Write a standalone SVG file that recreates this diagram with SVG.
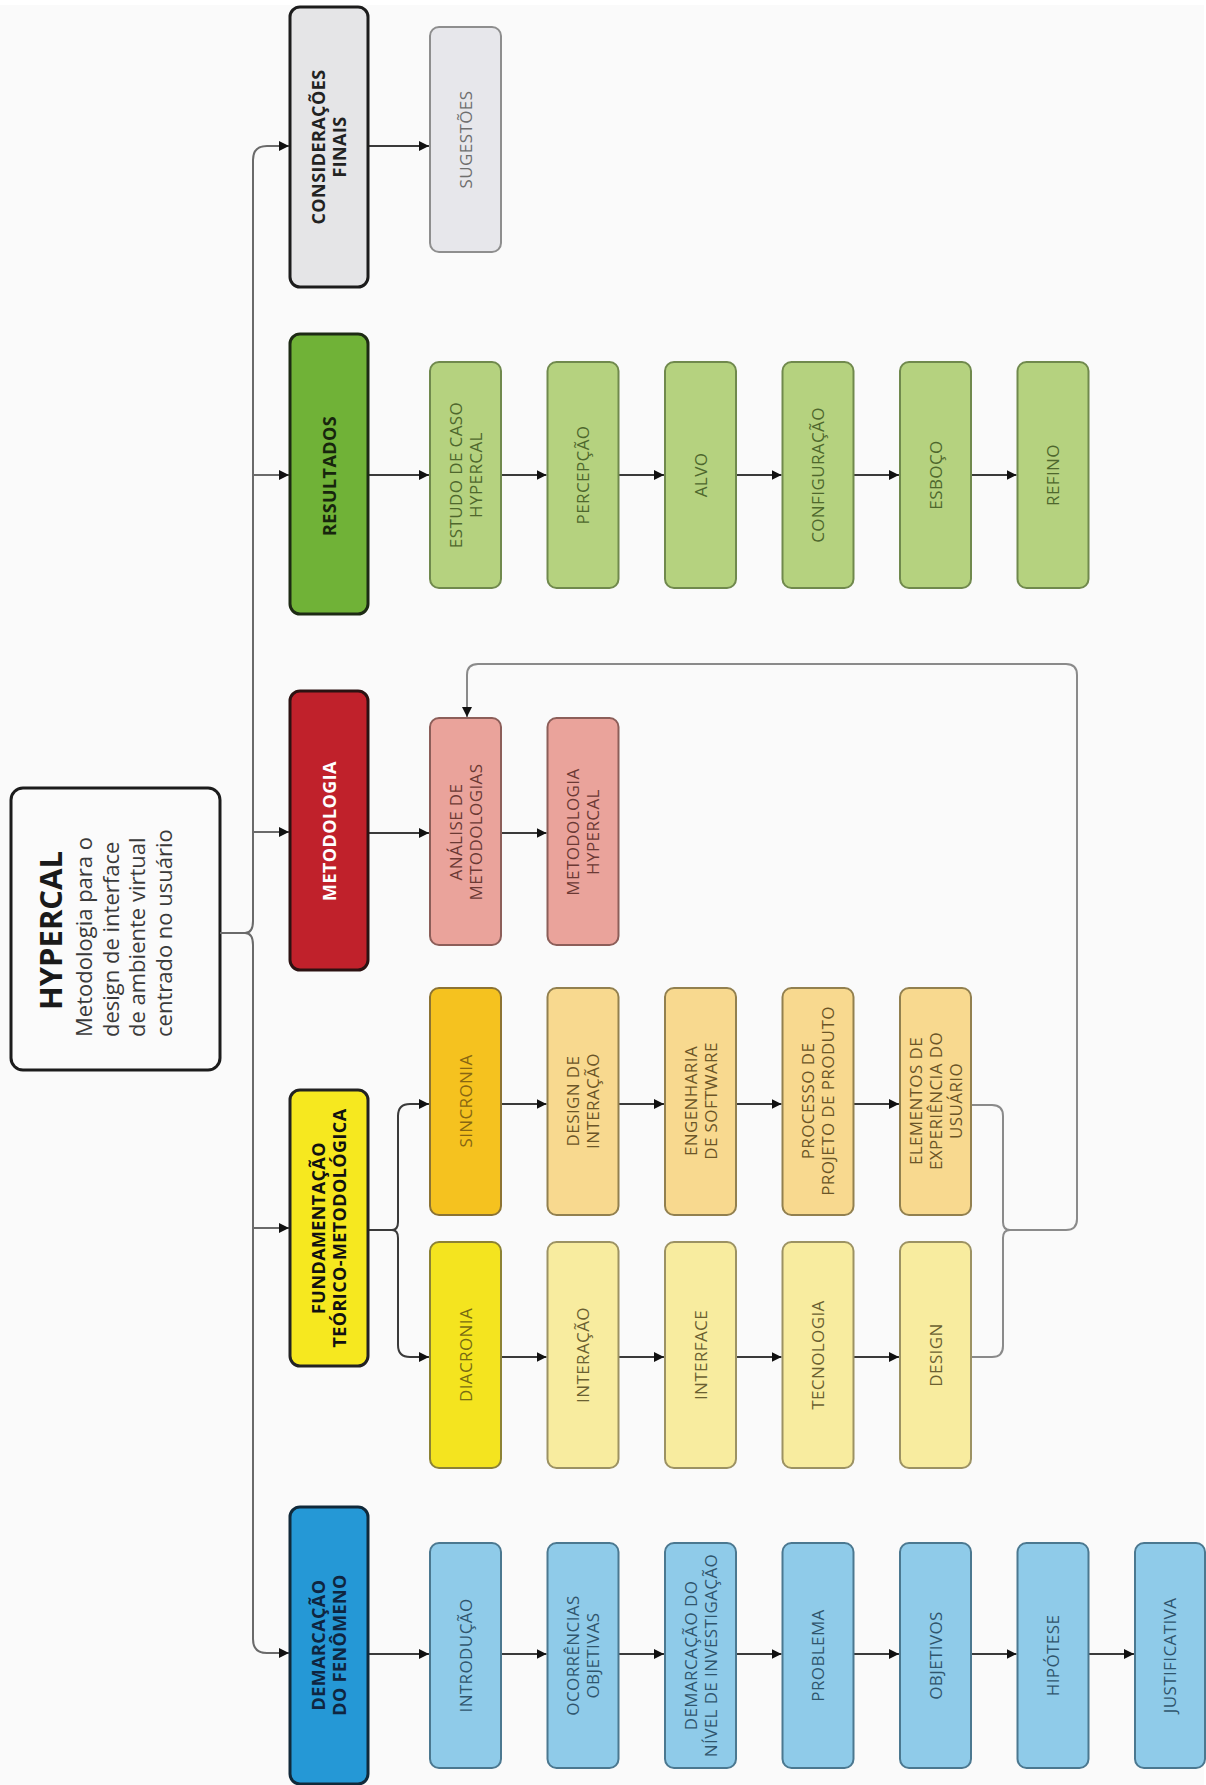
<svg xmlns="http://www.w3.org/2000/svg" width="1206" height="1785" viewBox="0 0 1206 1785">
  <style>
    .bg { fill: #fafafa; }
    .t1 { font-family: "Open Sans", "Noto Sans", "DejaVu Sans", sans-serif; font-size: 18px; font-weight: 700; text-anchor: middle; letter-spacing: 0.4px; }
    .t2 { font-family: "Open Sans", "Noto Sans", "DejaVu Sans", sans-serif; font-size: 17px; font-weight: 400; text-anchor: middle; letter-spacing: 0.4px; }
    .b1 { stroke-width: 3; }
    .b2 { stroke-width: 2; }
    .spine { fill: none; stroke: #6a6a6a; stroke-width: 2; }
    .flow { fill: none; stroke: #3a3a3a; stroke-width: 2; }
    .loop { fill: none; stroke: #8a8a8a; stroke-width: 2; }
    /* palette per branch */
    .k-gray1 { fill: #e5e5e7; stroke: #1c1c1c; }
    .k-gray2 { fill: #e7e7eb; stroke: #8e8e8e; }
    .c-gray1 { fill: #222; } .c-gray2 { fill: #6e6e6e; }
    .k-green1 { fill: #70b237; stroke: #1d2a14; }
    .k-green2 { fill: #b5d27f; stroke: #70894d; }
    .c-green1 { fill: #17250d; } .c-green2 { fill: #4e672d; }
    .k-red1 { fill: #c0212b; stroke: #2c1212; }
    .k-red2 { fill: #eaa39b; stroke: #8c5e59; }
    .c-red1 { fill: #ffffff; } .c-red2 { fill: #6b3934; }
    .k-yel1 { fill: #f6e81f; stroke: #222; }
    .k-sinc { fill: #f5c21f; stroke: #8c7333; }
    .k-sinc2 { fill: #f8d98f; stroke: #92804f; }
    .k-diac { fill: #f4e41f; stroke: #8c8234; }
    .k-diac2 { fill: #f8ec9f; stroke: #9c9263; }
    .c-yel1 { fill: #111; } .c-sinc { fill: #876612; } .c-sinc2 { fill: #6b5527; }
    .c-diac { fill: #776b12; } .c-diac2 { fill: #6a6031; }
    .k-blue1 { fill: #2598d6; stroke: #10293a; }
    .k-blue2 { fill: #8fcbe9; stroke: #4b7890; }
    .c-blue1 { fill: #0f2540; } .c-blue2 { fill: #2f556d; }
  </style>
  <defs>
    <marker id="ah" viewBox="0 0 10 10" refX="10" refY="5" markerWidth="10" markerHeight="10" markerUnits="userSpaceOnUse" orient="auto">
      <path d="M0,0 L10,5 L0,10 z" fill="#111"/>
    </marker>
  </defs>

  <rect x="0" y="0" width="1206" height="1785" fill="#ffffff"/>
  <rect class="bg" x="0" y="5" width="1204" height="1780"/>

  <!-- root node -->
  <g id="hypercal">
    <rect x="11" y="788" width="209" height="282" rx="12" fill="#fbfbfb" stroke="#1c1c1c" stroke-width="3"/>
    <g transform="rotate(-90)" font-family="'Open Sans', 'Noto Sans', sans-serif">
      <text x="-1010" y="62" font-size="31" font-weight="700" fill="#1a1a1a">HYPERCAL</text>
      <text font-size="22" fill="#3a3a3a">
        <tspan x="-1037" y="92">Metodologia para o</tspan>
        <tspan x="-1037" y="118.5">design de interface</tspan>
        <tspan x="-1037" y="145">de ambiente virtual</tspan>
        <tspan x="-1037" y="171.5">centrado no usuário</tspan>
      </text>
    </g>
  </g>

  <!-- connectors -->
  <g id="connectors">
    <!-- trunk with brace from the root node -->
    <path class="spine" d="M220,933 L245,933"/>
    <path class="spine" d="M280,146 L267,146 Q253,146 253,160 L253,921 Q253,933 245,933 Q253,933 253,945 L253,1639 Q253,1653 267,1653 L280,1653"/>
    <path class="spine" marker-end="url(#ah)" d="M270,146 L289,146"/>
    <path class="spine" marker-end="url(#ah)" d="M253,475 L289,475"/>
    <path class="spine" marker-end="url(#ah)" d="M253,832 L289,832"/>
    <path class="spine" marker-end="url(#ah)" d="M253,1228 L289,1228"/>
    <path class="spine" marker-end="url(#ah)" d="M270,1653 L289,1653"/>

    <!-- considerações finais -->
    <path class="flow" marker-end="url(#ah)" d="M368,146 L429,146"/>

    <!-- resultados row -->
    <path class="flow" marker-end="url(#ah)" d="M368,475 L429,475"/>
    <path class="flow" marker-end="url(#ah)" d="M501,475 L546.5,475"/>
    <path class="flow" marker-end="url(#ah)" d="M618.5,475 L664,475"/>
    <path class="flow" marker-end="url(#ah)" d="M736,475 L781.5,475"/>
    <path class="flow" marker-end="url(#ah)" d="M853.5,475 L899,475"/>
    <path class="flow" marker-end="url(#ah)" d="M971,475 L1016.5,475"/>

    <!-- metodologia row -->
    <path class="flow" marker-end="url(#ah)" d="M368,833 L429,833"/>
    <path class="flow" marker-end="url(#ah)" d="M501,833 L546.5,833"/>

    <!-- fundamentação split into two rows -->
    <path class="flow" d="M368,1230 L392,1230"/>
    <path class="flow" marker-end="url(#ah)" d="M392,1230 Q398,1230 398,1222 L398,1116 Q398,1104 410,1104 L429,1104"/>
    <path class="flow" marker-end="url(#ah)" d="M392,1230 Q398,1230 398,1238 L398,1345 Q398,1357 410,1357 L429,1357"/>
    <path class="flow" marker-end="url(#ah)" d="M501,1104 L546.5,1104"/>
    <path class="flow" marker-end="url(#ah)" d="M618.5,1104 L664,1104"/>
    <path class="flow" marker-end="url(#ah)" d="M736,1104 L781.5,1104"/>
    <path class="flow" marker-end="url(#ah)" d="M853.5,1104 L899,1104"/>
    <path class="flow" marker-end="url(#ah)" d="M501,1357 L546.5,1357"/>
    <path class="flow" marker-end="url(#ah)" d="M618.5,1357 L664,1357"/>
    <path class="flow" marker-end="url(#ah)" d="M736,1357 L781.5,1357"/>
    <path class="flow" marker-end="url(#ah)" d="M853.5,1357 L899,1357"/>

    <!-- both rows merge and feed back into the methodology analysis -->
    <path class="loop" d="M971,1105 L992,1105 Q1003,1105 1003,1116 L1003,1222 Q1003,1230 1010,1230"/>
    <path class="loop" d="M971,1357 L992,1357 Q1003,1357 1003,1346 L1003,1238 Q1003,1230 1010,1230"/>
    <path class="loop" marker-end="url(#ah)" d="M1010,1230 L1066,1230 Q1077,1230 1077,1219 L1077,675 Q1077,664 1066,664 L478,664 Q467,664 467,675 L467,717"/>

    <!-- demarcação row -->
    <path class="flow" marker-end="url(#ah)" d="M368,1654 L429,1654"/>
    <path class="flow" marker-end="url(#ah)" d="M501,1654 L546.5,1654"/>
    <path class="flow" marker-end="url(#ah)" d="M618.5,1654 L664,1654"/>
    <path class="flow" marker-end="url(#ah)" d="M736,1654 L781.5,1654"/>
    <path class="flow" marker-end="url(#ah)" d="M853.5,1654 L899,1654"/>
    <path class="flow" marker-end="url(#ah)" d="M971,1654 L1016.5,1654"/>
    <path class="flow" marker-end="url(#ah)" d="M1088.5,1654 L1134,1654"/>
  </g>

  <!-- chapter nodes -->
  <g id="consideracoes">
    <rect class="b1 k-gray1" x="290" y="7" width="78" height="280" rx="10"/>
    <text class="t1 c-gray1" transform="translate(329,147) rotate(-90)"><tspan x="0" y="-4">CONSIDERAÇÕES</tspan><tspan x="0" y="17">FINAIS</tspan></text>
  </g>
  <g id="resultados">
    <rect class="b1 k-green1" x="290" y="334" width="78" height="280" rx="10"/>
    <text class="t1 c-green1" transform="translate(329,476) rotate(-90)" x="0" y="6.5">RESULTADOS</text>
  </g>
  <g id="metodologia">
    <rect class="b1 k-red1" x="290" y="691" width="78" height="279" rx="10"/>
    <text class="t1 c-red1" transform="translate(329,831) rotate(-90)" x="0" y="6.5">METODOLOGIA</text>
  </g>
  <g id="fundamentacao">
    <rect class="b1 k-yel1" x="290" y="1090" width="78" height="276" rx="10"/>
    <text class="t1 c-yel1" transform="translate(329,1228) rotate(-90)"><tspan x="0" y="-4">FUNDAMENTAÇÃO</tspan><tspan x="0" y="17">TEÓRICO-METODOLÓGICA</tspan></text>
  </g>
  <g id="demarcacao">
    <rect class="b1 k-blue1" x="290" y="1507" width="78" height="277" rx="10"/>
    <text class="t1 c-blue1" transform="translate(329,1645) rotate(-90)"><tspan x="0" y="-4">DEMARCAÇÃO</tspan><tspan x="0" y="17">DO FENÔMENO</tspan></text>
  </g>

  <!-- considerações finais -->
  <g id="sugestoes">
    <rect class="b2 k-gray2" x="430" y="27" width="71" height="225" rx="9"/>
    <text class="t2 c-gray2" transform="translate(465.5,139.5) rotate(-90)" x="0" y="6">SUGESTÕES</text>
  </g>

  <!-- resultados -->
  <g id="estudo-de-caso">
    <rect class="b2 k-green2" x="430" y="362" width="71" height="226" rx="9"/>
    <text class="t2 c-green2" transform="translate(465.5,475) rotate(-90)"><tspan x="0" y="-4">ESTUDO DE CASO</tspan><tspan x="0" y="16">HYPERCAL</tspan></text>
  </g>
  <g id="percepcao">
    <rect class="b2 k-green2" x="547.5" y="362" width="71" height="226" rx="9"/>
    <text class="t2 c-green2" transform="translate(583,475) rotate(-90)" x="0" y="6">PERCEPÇÃO</text>
  </g>
  <g id="alvo">
    <rect class="b2 k-green2" x="665" y="362" width="71" height="226" rx="9"/>
    <text class="t2 c-green2" transform="translate(700.5,475) rotate(-90)" x="0" y="6">ALVO</text>
  </g>
  <g id="configuracao">
    <rect class="b2 k-green2" x="782.5" y="362" width="71" height="226" rx="9"/>
    <text class="t2 c-green2" transform="translate(818,475) rotate(-90)" x="0" y="6">CONFIGURAÇÃO</text>
  </g>
  <g id="esboco">
    <rect class="b2 k-green2" x="900" y="362" width="71" height="226" rx="9"/>
    <text class="t2 c-green2" transform="translate(935.5,475) rotate(-90)" x="0" y="6">ESBOÇO</text>
  </g>
  <g id="refino">
    <rect class="b2 k-green2" x="1017.5" y="362" width="71" height="226" rx="9"/>
    <text class="t2 c-green2" transform="translate(1053,475) rotate(-90)" x="0" y="6">REFINO</text>
  </g>

  <!-- metodologia -->
  <g id="analise">
    <rect class="b2 k-red2" x="430" y="718" width="71" height="227" rx="9"/>
    <text class="t2 c-red2" transform="translate(465.5,832) rotate(-90)"><tspan x="0" y="-4">ANÁLISE DE</tspan><tspan x="0" y="16">METODOLOGIAS</tspan></text>
  </g>
  <g id="metodologia-hypercal">
    <rect class="b2 k-red2" x="547.5" y="718" width="71" height="227" rx="9"/>
    <text class="t2 c-red2" transform="translate(583,832) rotate(-90)"><tspan x="0" y="-4">METODOLOGIA</tspan><tspan x="0" y="16">HYPERCAL</tspan></text>
  </g>

  <!-- fundamentação: sincronia -->
  <g id="sincronia">
    <rect class="b2 k-sinc" x="430" y="988" width="71" height="227" rx="9"/>
    <text class="t2 c-sinc" transform="translate(465.5,1101) rotate(-90)" x="0" y="6">SINCRONIA</text>
  </g>
  <g id="design-de-interacao">
    <rect class="b2 k-sinc2" x="547.5" y="988" width="71" height="227" rx="9"/>
    <text class="t2 c-sinc2" transform="translate(583,1101) rotate(-90)"><tspan x="0" y="-4">DESIGN DE</tspan><tspan x="0" y="16">INTERAÇÃO</tspan></text>
  </g>
  <g id="engenharia">
    <rect class="b2 k-sinc2" x="665" y="988" width="71" height="227" rx="9"/>
    <text class="t2 c-sinc2" transform="translate(700.5,1101) rotate(-90)"><tspan x="0" y="-4">ENGENHARIA</tspan><tspan x="0" y="16">DE SOFTWARE</tspan></text>
  </g>
  <g id="processo">
    <rect class="b2 k-sinc2" x="782.5" y="988" width="71" height="227" rx="9"/>
    <text class="t2 c-sinc2" transform="translate(818,1101) rotate(-90)"><tspan x="0" y="-4">PROCESSO DE</tspan><tspan x="0" y="16">PROJETO DE PRODUTO</tspan></text>
  </g>
  <g id="elementos">
    <rect class="b2 k-sinc2" x="900" y="988" width="71" height="227" rx="9"/>
    <text class="t2 c-sinc2" transform="translate(935.5,1101) rotate(-90)"><tspan x="0" y="-14">ELEMENTOS DE</tspan><tspan x="0" y="6">EXPERIÊNCIA DO</tspan><tspan x="0" y="26">USUÁRIO</tspan></text>
  </g>

  <!-- fundamentação: diacronia -->
  <g id="diacronia">
    <rect class="b2 k-diac" x="430" y="1242" width="71" height="226" rx="9"/>
    <text class="t2 c-diac" transform="translate(465.5,1355) rotate(-90)" x="0" y="6">DIACRONIA</text>
  </g>
  <g id="interacao">
    <rect class="b2 k-diac2" x="547.5" y="1242" width="71" height="226" rx="9"/>
    <text class="t2 c-diac2" transform="translate(583,1355) rotate(-90)" x="0" y="6">INTERAÇÃO</text>
  </g>
  <g id="interface">
    <rect class="b2 k-diac2" x="665" y="1242" width="71" height="226" rx="9"/>
    <text class="t2 c-diac2" transform="translate(700.5,1355) rotate(-90)" x="0" y="6">INTERFACE</text>
  </g>
  <g id="tecnologia">
    <rect class="b2 k-diac2" x="782.5" y="1242" width="71" height="226" rx="9"/>
    <text class="t2 c-diac2" transform="translate(818,1355) rotate(-90)" x="0" y="6">TECNOLOGIA</text>
  </g>
  <g id="design">
    <rect class="b2 k-diac2" x="900" y="1242" width="71" height="226" rx="9"/>
    <text class="t2 c-diac2" transform="translate(935.5,1355) rotate(-90)" x="0" y="6">DESIGN</text>
  </g>

  <!-- demarcação do fenômeno -->
  <g id="introducao">
    <rect class="b2 k-blue2" x="430" y="1543" width="71" height="225" rx="9"/>
    <text class="t2 c-blue2" transform="translate(465.5,1655.5) rotate(-90)" x="0" y="6">INTRODUÇÃO</text>
  </g>
  <g id="ocorrencias">
    <rect class="b2 k-blue2" x="547.5" y="1543" width="71" height="225" rx="9"/>
    <text class="t2 c-blue2" transform="translate(583,1655.5) rotate(-90)"><tspan x="0" y="-4">OCORRÊNCIAS</tspan><tspan x="0" y="16">OBJETIVAS</tspan></text>
  </g>
  <g id="nivel-investigacao">
    <rect class="b2 k-blue2" x="665" y="1543" width="71" height="225" rx="9"/>
    <text class="t2 c-blue2" transform="translate(700.5,1655.5) rotate(-90)"><tspan x="0" y="-4">DEMARCAÇÃO DO</tspan><tspan x="0" y="16">NÍVEL DE INVESTIGAÇÃO</tspan></text>
  </g>
  <g id="problema">
    <rect class="b2 k-blue2" x="782.5" y="1543" width="71" height="225" rx="9"/>
    <text class="t2 c-blue2" transform="translate(818,1655.5) rotate(-90)" x="0" y="6">PROBLEMA</text>
  </g>
  <g id="objetivos">
    <rect class="b2 k-blue2" x="900" y="1543" width="71" height="225" rx="9"/>
    <text class="t2 c-blue2" transform="translate(935.5,1655.5) rotate(-90)" x="0" y="6">OBJETIVOS</text>
  </g>
  <g id="hipotese">
    <rect class="b2 k-blue2" x="1017.5" y="1543" width="71" height="225" rx="9"/>
    <text class="t2 c-blue2" transform="translate(1053,1655.5) rotate(-90)" x="0" y="6">HIPÓTESE</text>
  </g>
  <g id="justificativa">
    <rect class="b2 k-blue2" x="1135" y="1543" width="70" height="225" rx="9"/>
    <text class="t2 c-blue2" transform="translate(1170,1655.5) rotate(-90)" x="0" y="6">JUSTIFICATIVA</text>
  </g>
</svg>
